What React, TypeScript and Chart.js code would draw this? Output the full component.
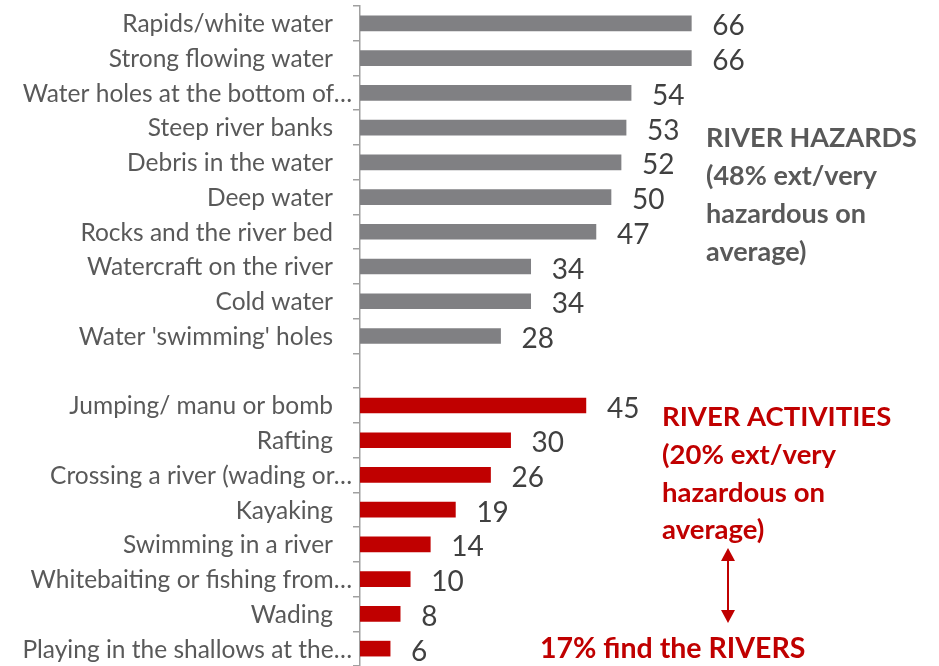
import React, { useEffect, useRef } from "react";
import { Chart, registerables } from "chart.js";

Chart.register(...registerables);

const categories = [
  "Rapids/white water",
  "Strong flowing water",
  "Water holes at the bottom of…",
  "Steep river banks",
  "Debris in the water",
  "Deep water",
  "Rocks and the river bed",
  "Watercraft on the river",
  "Cold water",
  "Water 'swimming' holes",
  "",
  "Jumping/ manu or bomb",
  "Rafting",
  "Crossing a river (wading or…",
  "Kayaking",
  "Swimming in a river",
  "Whitebaiting or fishing from…",
  "Wading",
  "Playing in the shallows at the…",
];

const hazardValues = [66, 66, 54, 53, 52, 50, 47, 34, 34, 28];
const activityValues = [45, 30, 26, 19, 14, 10, 8, 6];

const hazardNote = ["RIVER HAZARDS", "(48% ext/very", "hazardous on", "average)"];
const activityNote = ["RIVER ACTIVITIES", "(20% ext/very", "hazardous on", "average)"];
const footNote = "17% find the RIVERS";

const GRAY = "#808083";
const RED = "#C00000";
const FONT = "Lato, 'Open Sans', sans-serif";

export default function App() {
  const ref = useRef<HTMLCanvasElement | null>(null);

  useEffect(() => {
    if (!ref.current) return;
    const hazardData: (number | null)[] = categories.map((_, i) =>
      i < hazardValues.length ? hazardValues[i] : null
    );
    const offset = hazardValues.length + 1;
    const activityData: (number | null)[] = categories.map((_, i) =>
      i >= offset && i - offset < activityValues.length ? activityValues[i - offset] : null
    );

    const categoryLabels = {
      id: "categoryLabels",
      afterDraw(chart: any) {
        const ctx = chart.ctx;
        const scale = chart.scales.y;
        ctx.save();
        ctx.font = `24.5px ${FONT}`;
        ctx.fillStyle = "#595959";
        ctx.textAlign = "right";
        ctx.textBaseline = "middle";
        categories.forEach((label, i) => {
          if (!label) return;
          const y = scale.getPixelForTick(i);
          const x = label.endsWith("…") ? scale.right - 8 : scale.right - 27;
          ctx.fillText(label, x, y + 1);
        });
        ctx.restore();
      },
    };

    const valueLabels = {
      id: "valueLabels",
      afterDatasetsDraw(chart: any) {
        const ctx = chart.ctx;
        ctx.save();
        ctx.font = `28px ${FONT}`;
        ctx.fillStyle = "#404040";
        ctx.textAlign = "left";
        ctx.textBaseline = "middle";
        chart.data.datasets.forEach((ds: any, di: number) => {
          const meta = chart.getDatasetMeta(di);
          meta.data.forEach((bar: any, i: number) => {
            const v = ds.data[i];
            if (v === null || v === undefined) return;
            ctx.fillText(String(v), bar.x + 21, bar.y + 3);
          });
        });
        ctx.restore();
      },
    };

    const notes = {
      id: "notes",
      afterDraw(chart: any) {
        const ctx = chart.ctx;
        ctx.save();
        ctx.font = `bold 27px ${FONT}`;
        ctx.textAlign = "left";
        ctx.textBaseline = "alphabetic";
        ctx.fillStyle = "#595959";
        const gy = [147, 185, 223, 261];
        hazardNote.forEach((t, i) => ctx.fillText(t, 706, gy[i]));
        ctx.fillStyle = RED;
        ctx.font = `bold 27.5px ${FONT}`;
        const ry = [426, 464, 502, 539];
        activityNote.forEach((t, i) => ctx.fillText(t, 662, ry[i]));
        ctx.font = `bold 28.5px ${FONT}`;
        ctx.fillText(footNote, 540, 658);
        // double-headed arrow
        ctx.strokeStyle = RED;
        ctx.lineWidth = 2;
        ctx.beginPath();
        ctx.moveTo(728, 556);
        ctx.lineTo(728, 615);
        ctx.stroke();
        ctx.beginPath();
        ctx.moveTo(728, 548);
        ctx.lineTo(735, 561);
        ctx.lineTo(721, 561);
        ctx.closePath();
        ctx.fill();
        ctx.beginPath();
        ctx.moveTo(728, 623);
        ctx.lineTo(735, 610);
        ctx.lineTo(721, 610);
        ctx.closePath();
        ctx.fill();
        ctx.restore();
      },
    };

    const chart = new Chart(ref.current, {
      type: "bar",
      data: {
        labels: categories,
        datasets: [
          {
            label: "Hazards",
            data: hazardData,
            backgroundColor: GRAY,
            barThickness: 15,
            grouped: false,
          } as any,
          {
            label: "Activities",
            data: activityData,
            backgroundColor: RED,
            barThickness: 15,
            grouped: false,
          } as any,
        ],
      },
      options: {
        indexAxis: "y",
        animation: false,
        responsive: true,
        maintainAspectRatio: false,
        layout: { padding: { top: 6, bottom: -4, left: 0, right: 77 } },
        plugins: {
          legend: { display: false },
          tooltip: { enabled: false },
        },
        scales: {
          x: {
            display: false,
            min: 0,
            max: 100,
          },
          y: {
            type: "category",
            afterFit(scale: any) {
              scale.width = 360;
              scale.paddingTop = 0;
              scale.paddingBottom = 0;
            },
            grid: {
              offset: true,
              drawOnChartArea: false,
              drawTicks: true,
              tickLength: 7,
              color: "#A0A0A0",
              lineWidth: 1.5,
            },
            border: { display: true, color: "#A0A0A0", width: 1.5 },
            ticks: {
              display: false,
              autoSkip: false,
            },
          },
        },
      },
      plugins: [valueLabels, categoryLabels, notes],
    });
    return () => chart.destroy();
  }, []);

  return (
    <div style={{ position: "absolute", left: 0, top: 0, width: 939, height: 666 }}>
      <canvas ref={ref} />
    </div>
  );
}
